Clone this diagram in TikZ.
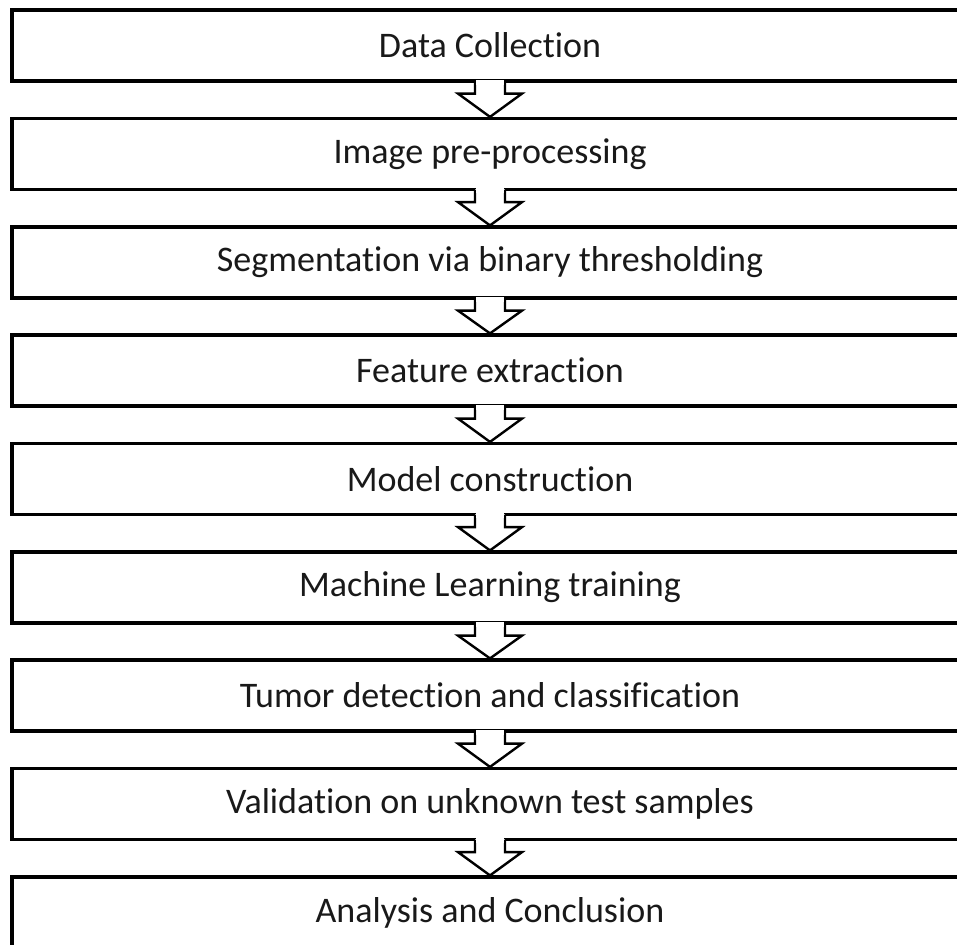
\documentclass[tikz,border=0pt]{standalone}
\usepackage{fontspec}
\setmainfont{Carlito}[Ligatures={NoCommon,NoRequired,NoContextual}]
\usetikzlibrary{calc}

\tikzset{
  stagebox/.style={draw=black, line width=3.2pt, fill=white, rectangle,
    minimum width=956pt, minimum height=71pt, inner sep=0pt,
    font=\fontsize{36}{42}\selectfont, text=black!90},
  blockarrow/.style={draw=black, line width=2.4pt, fill=white, line join=miter}
}

% hollow block arrow from the bottom of #1 to the top of #2
\newcommand{\flowarrow}[2]{%
  \fill[white] ($(#1.south)+(-15,-2)$) rectangle ($(#1.south)+(15,11)$);
  \filldraw[blockarrow]
    ($(#1.south)+(-15,-1.5)$) -- ($(#1.south)+(-15,11)$) -- ($(#1.south)+(-32,11)$)
    -- (#2.north) -- ($(#1.south)+(32,11)$) -- ($(#1.south)+(15,11)$)
    -- ($(#1.south)+(15,-1.5)$);
  \fill[white] ($(#1.south)+(-13.8,-3)$) rectangle ($(#1.south)+(13.8,2)$);
}

\begin{document}
\begin{tikzpicture}[x=1pt, y=-1pt]
  \useasboundingbox (0,0) rectangle (957,944);

  \node[stagebox] (s1) at (490, 45.5)   {Data Collection};
  \node[stagebox] (s2) at (490, 154)    {Image pre-processing};
  \node[stagebox] (s3) at (490, 262.5)  {Segmentation via binary thresholding};
  \node[stagebox] (s4) at (490, 370.5)  {Feature extraction};
  \node[stagebox] (s5) at (490, 479)    {Model construction};
  \node[stagebox] (s6) at (490, 587.5)  {Machine Learning training};
  \node[stagebox] (s7) at (490, 695.5)  {Tumor detection and classification};
  \node[stagebox] (s8) at (490, 804)    {Validation on unknown test samples};
  \node[stagebox] (s9) at (490, 912.5)  {Analysis and Conclusion};

  \flowarrow{s1}{s2}
  \flowarrow{s2}{s3}
  \flowarrow{s3}{s4}
  \flowarrow{s4}{s5}
  \flowarrow{s5}{s6}
  \flowarrow{s6}{s7}
  \flowarrow{s7}{s8}
  \flowarrow{s8}{s9}
\end{tikzpicture}
\end{document}
